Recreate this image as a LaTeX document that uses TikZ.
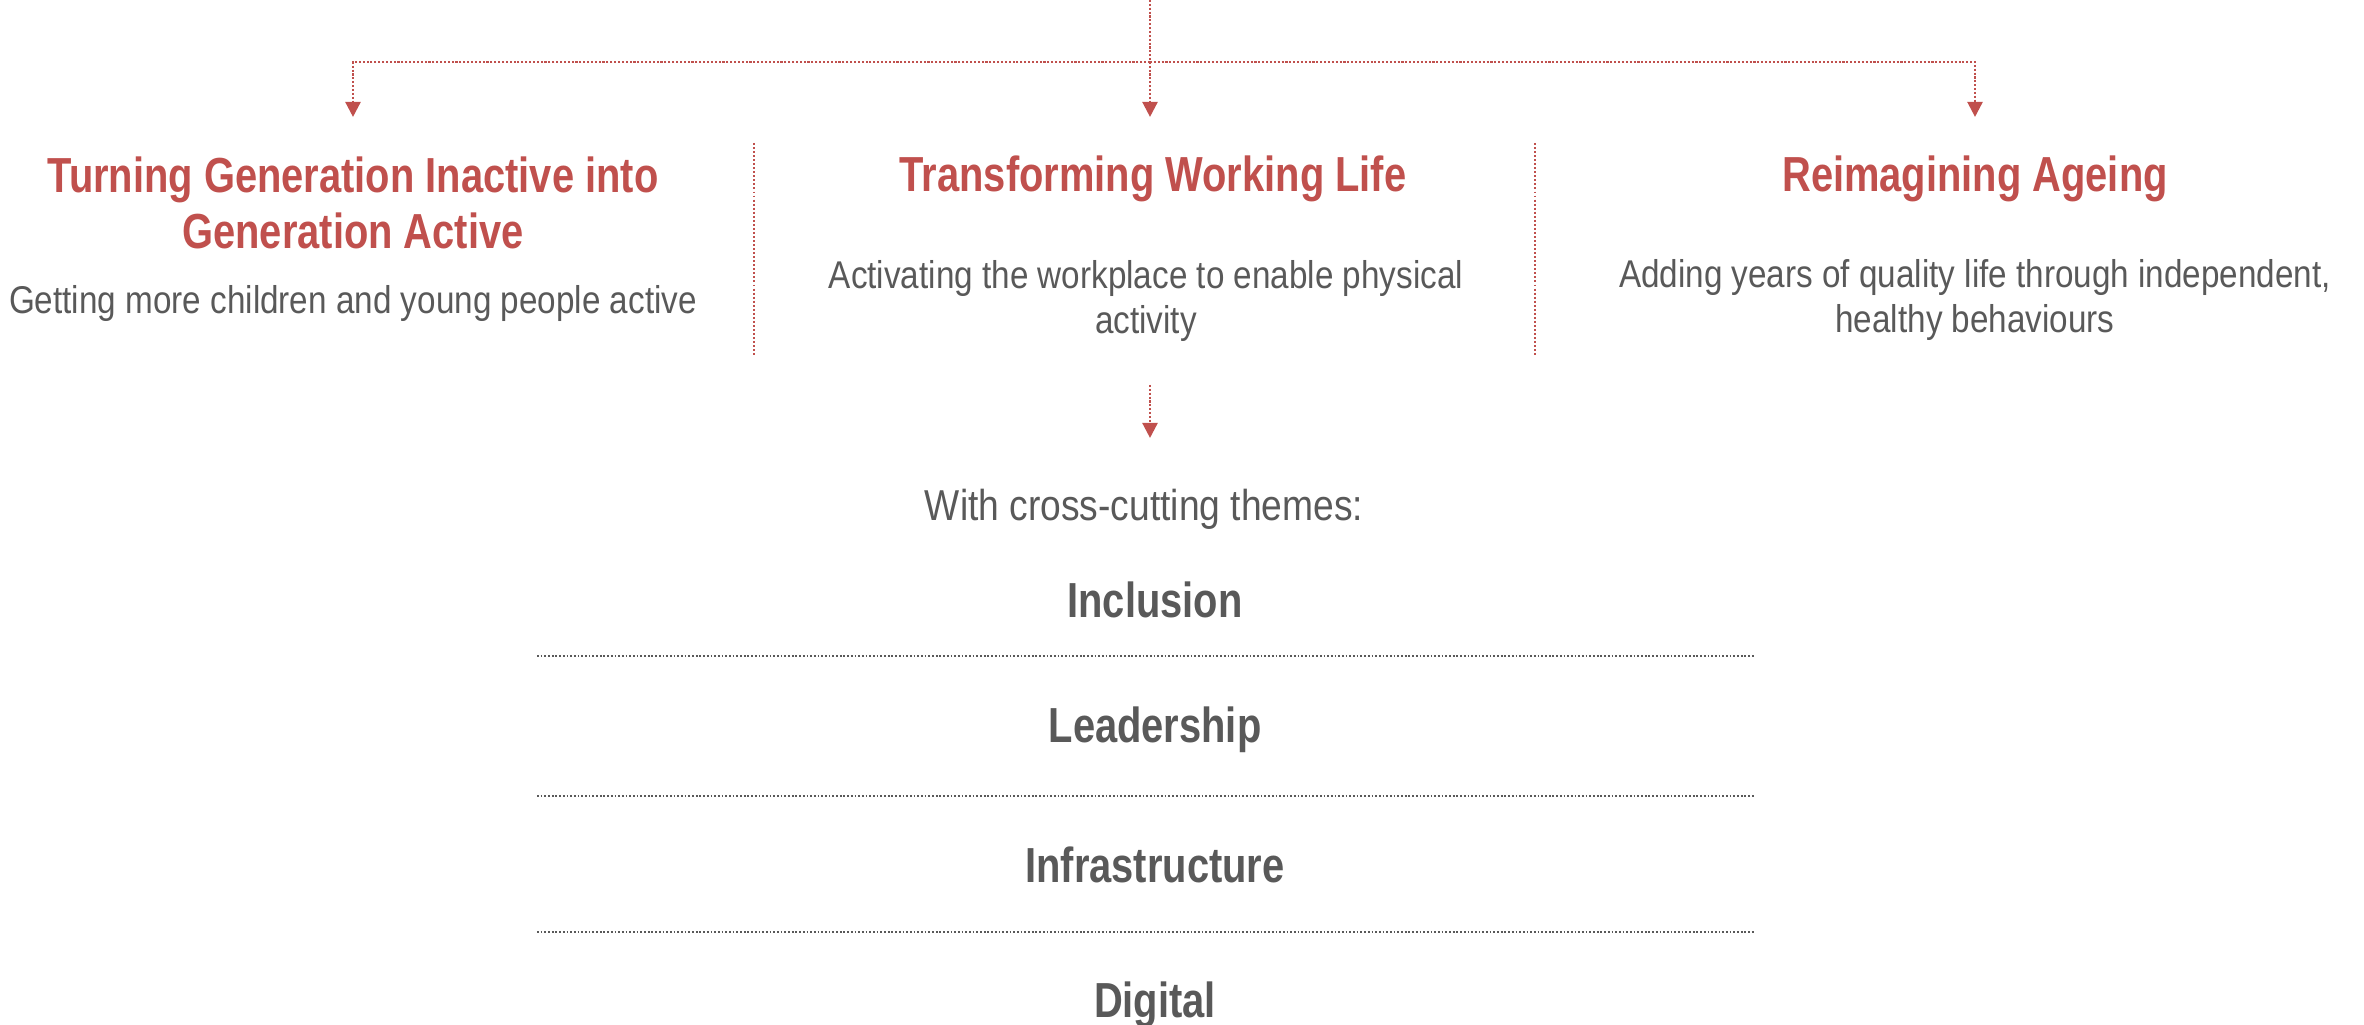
\documentclass[tikz,border=0pt]{standalone}
\usepackage{fontspec}
\setmainfont{Liberation Sans}[FakeStretch=0.86]
\newfontfamily\headfont{Liberation Sans}[FakeStretch=0.81]
\usetikzlibrary{arrows.meta}
\usepackage{xcolor}
\definecolor{brickred}{HTML}{C0504D}
\definecolor{textgray}{HTML}{595959}

\begin{document}
\begin{tikzpicture}[
x=0.01cm, y=-0.01cm,
title/.style={font=\headfont\bfseries\fontsize{14}{16.2}\selectfont,
text=brickred,
align=center,
inner sep=0pt,
anchor=base},
desc/.style={font=\fontsize{11}{13}\selectfont,
text=textgray,
align=center,
inner sep=0pt,
anchor=base},
theme/.style={font=\headfont\bfseries\fontsize{14}{16.2}\selectfont,
text=textgray,
inner sep=0pt,
anchor=base},
flow/.style={brickred, line width=0.7pt, dash pattern=on 0.6pt off 0.5pt,
-{Triangle[length=4.3pt, width=4.3pt]}},
divider/.style={brickred, line width=0.6pt, dash pattern=on 0.55pt off 0.6pt},
rule/.style={textgray, line width=0.55pt, dash pattern=on 0.5pt off 0.55pt}
]
\useasboundingbox (0,0) rectangle (2364,1025);

\coordinate (src) at (1150,0);
\coordinate (hub) at (1150,62);

% multi-line nodes sit on their last baseline
\node[title] (aims1) at (353,249) {Turning Generation Inactive into\\Generation Active};
\node[title] (aims2) at (1153,192) {Transforming Working Life};
\node[title] (aims3) at (1975,192) {Reimagining Ageing};

\node[desc] (desc1) at (353,314) {Getting more children and young people active};
\node[desc] (desc2) at (1146,334) {Activating the workplace to enable physical\\activity};
\node[desc] (desc3) at (1975,333) {Adding years of quality life through independent,\\healthy behaviours};

\draw[divider] (754,143) -- (754,357);
\draw[divider] (1535,143) -- (1535,357);

\draw[flow, shorten >=11pt] (hub) -| (aims1.north);
\draw[flow, shorten >=11pt] (src) -- (aims2.north -| src);
\draw[flow, shorten >=11pt] (hub) -| (aims3.north);

\node[desc, font=\fontsize{12.3}{14}\selectfont] (intro) at (1144,521) {With cross-cutting themes:};
\draw[flow, shorten <=12pt, shorten >=14.5pt] (desc2.south -| src) -- (intro.north -| src);

\node[theme] (incl) at (1155,618) {Inclusion};
\node[theme] (lead) at (1155,742) {Leadership};
\node[theme] (infra) at (1155,882) {Infrastructure};
\node[theme] (digi) at (1155,1017) {Digital};

\draw[rule] (537,656) -- (1755,656);
\draw[rule] (537,796) -- (1755,796);
\draw[rule] (537,932) -- (1755,932);

\end{tikzpicture}
\end{document}
